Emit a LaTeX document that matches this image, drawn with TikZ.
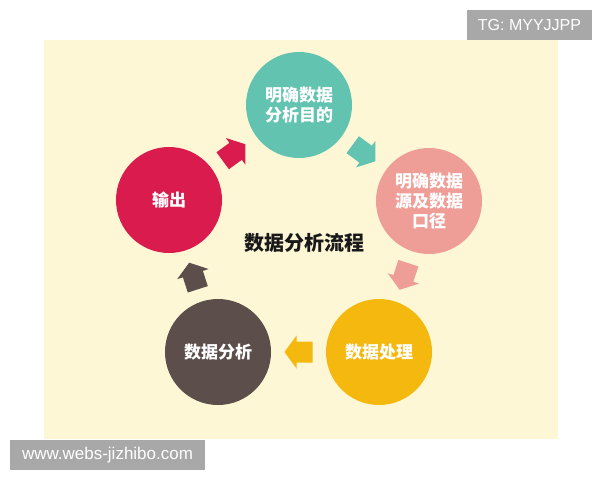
\documentclass[tikz,border=0pt]{standalone}
\usepackage{fontspec}
\setmainfont{Liberation Sans}
\newfontfamily\cjk{Noto Sans CJK SC}
\usetikzlibrary{calc}
\definecolor{panelc}{HTML}{FEF7D6}
\definecolor{ctel}{HTML}{62C3B1}
\definecolor{cpink}{HTML}{EF9D97}
\definecolor{cred}{HTML}{D91B4D}
\definecolor{cbrown}{HTML}{5B4E4B}
\definecolor{camber}{HTML}{F5B80F}
\definecolor{wmgray}{HTML}{A8A8A8}
\begin{document}
\begin{tikzpicture}[x=1pt,y=-1pt,
  bubble/.style={circle, minimum size=106pt, inner sep=0pt, align=center,
    text=white, font=\cjk\bfseries\fontsize{17}{20}\selectfont},
  wm/.style={fill=wmgray, text=white, inner sep=0pt, minimum height=30pt},
  barrow/.pic={\fill[#1] (-14,-10.5) -- (2,-10.5) -- (2,-16.5) -- (14,0)
      -- (2,16.5) -- (2,10.5) -- (-14,10.5) -- cycle;}]
\useasboundingbox (0,0) rectangle (600,480);
\fill[white] (0,0) rectangle (600,480);
\fill[panelc] (44,40) rectangle (558,439);
\node[bubble, fill=ctel] (goal) at (299,105) {明确数据\\分析目的};
\node[bubble, fill=cpink] (source) at (429,201) {明确数据\\源及数据\\口径};
\node[bubble, fill=camber] (proc) at (379,352) {数据处理};
\node[bubble, fill=cbrown] (anal) at (218,352) {数据分析};
\node[bubble, fill=cred] (out) at (169,200) {输出};
\node[font=\cjk\bfseries\fontsize{20}{24}\selectfont, text=black!90] (title) at (304,243) {数据分析流程};
\path (out) -- (goal) pic[pos=0.5, sloped, allow upside down] {barrow=cred};
\path (goal) -- (source) pic[pos=0.5, sloped, allow upside down] {barrow=ctel};
\path (source) -- (proc) pic[pos=0.5, sloped, allow upside down] {barrow=cpink};
\path (proc) -- (anal) pic[pos=0.5, sloped, allow upside down] {barrow=camber};
\path (anal) -- (out) pic[pos=0.5, sloped, allow upside down] {barrow=cbrown};
\node[wm, minimum width=125pt, font=\fontsize{16}{16}\selectfont] (tg) at (529.5,25) {TG: MYYJJPP};
\node[wm, minimum width=195pt, font=\fontsize{17}{17}\selectfont] (site) at (107.5,455) {www.webs-jizhibo.com};
\end{tikzpicture}
\end{document}
